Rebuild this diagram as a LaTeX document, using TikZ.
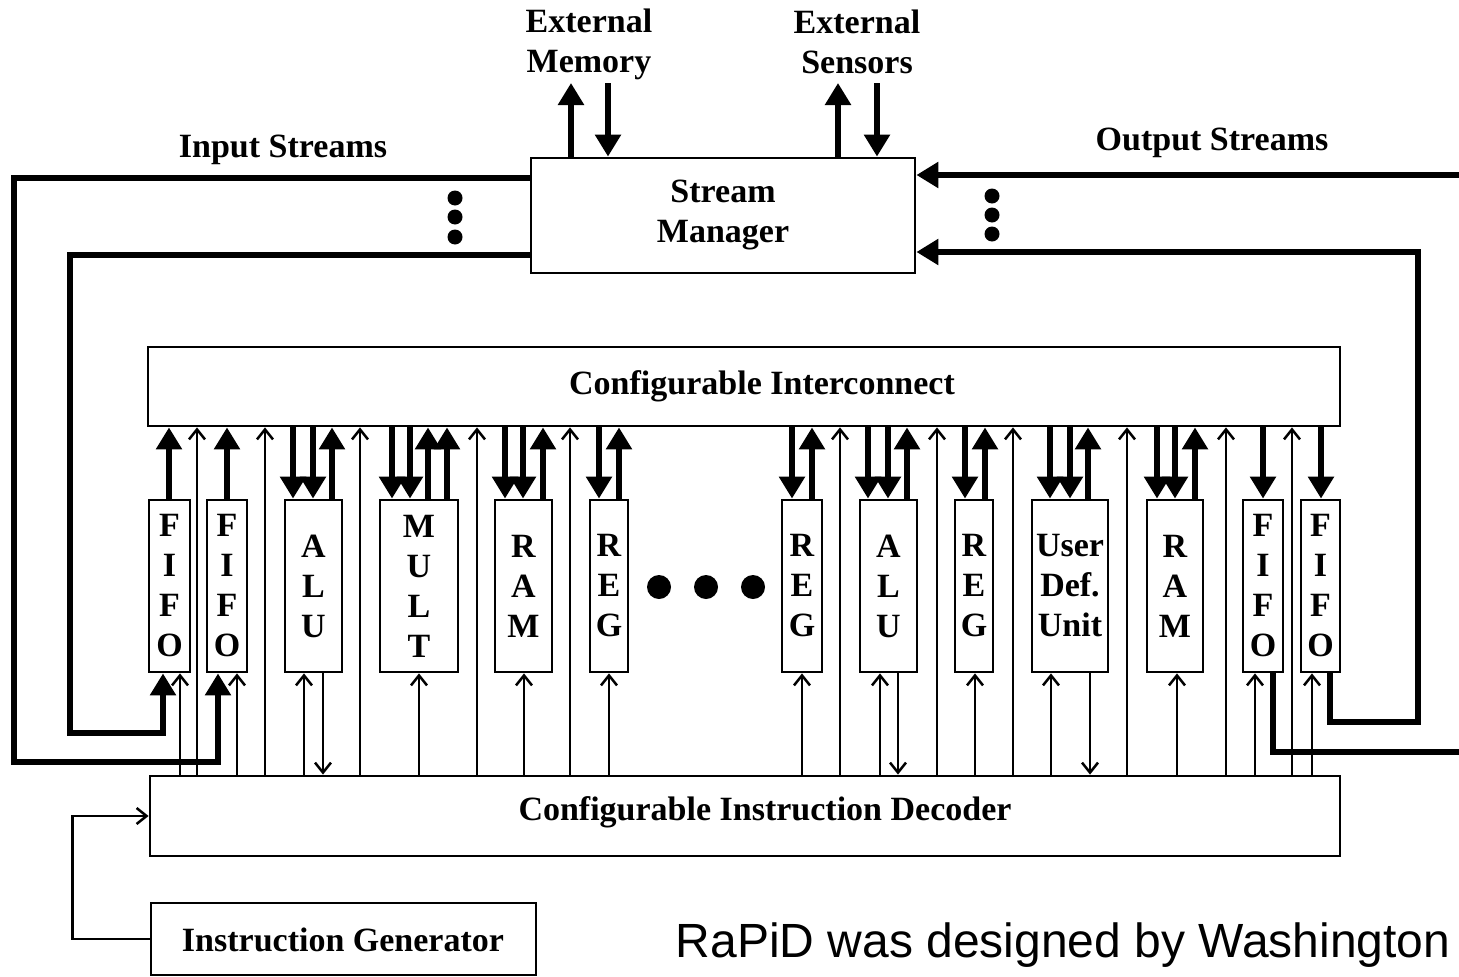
\documentclass[tikz,border=0pt]{standalone}
\usepackage{fontspec}
\setmainfont{Liberation Serif}
\newfontfamily\arialfont{Liberation Sans}
\usetikzlibrary{arrows.meta}

\tikzset{
  box/.style={draw, line width=2.8pt, inner sep=0pt},
  unitbox/.style={box, minimum height=172pt, align=center,
    font=\fontsize{34}{40}\selectfont\bfseries},
  lbl/.style={inner sep=0pt, align=center,
    font=\fontsize{34}{40}\selectfont\bfseries},
  fatline/.style={line width=6pt, line join=miter},
  fatarrow/.style={fatline, -{Triangle[width=25pt,length=22pt]}},
  slimarrow/.style={line width=2.5pt,
    -{Straight Barb[width=16pt,length=10pt,line width=2.5pt]}},
}

\begin{document}
\begin{tikzpicture}[x=1pt,y=-1pt]
\useasboundingbox (0,0) rectangle (1459,977);

% main blocks
\node[box, minimum width=384pt, minimum height=115pt] (sm) at (723,215.5) {};
\node[lbl] (smtext) at (723,214.5) {Stream\\Manager};
\node[box, minimum width=1192pt, minimum height=79pt] (ic) at (744,386.5) {};
\node[lbl] (ictext) at (762,386) {Configurable Interconnect};
\node[box, minimum width=1190pt, minimum height=80pt] (dec) at (745,816) {};
\node[lbl] (dectext) at (765,812) {Configurable Instruction Decoder};
\node[box, minimum width=385pt, minimum height=72pt] (ig) at (343.5,939) {};
\node[lbl] (igtext) at (343,940) {Instruction Generator};

% labels of the outside world
\node[lbl] (mem) at (589,44) {External\\Memory};
\node[lbl] (sens) at (857,42) {External\\Sensors};
\node[lbl] (instr) at (283,150) {Input Streams};
\node[lbl] (outstr) at (1212,143) {Output Streams};

% functional units
\node[unitbox, minimum width=41pt] (f1)   at (169.5,586) {F\\I\\F\\O};
\node[unitbox, minimum width=40pt] (f2)   at (227,586)   {F\\I\\F\\O};
\node[unitbox, minimum width=57pt] (alu1) at (313.5,586) {A\\L\\U};
\node[unitbox, minimum width=78pt] (mult) at (419,586)   {M\\U\\L\\T};
\node[unitbox, minimum width=57pt] (ram1) at (523.5,586) {R\\A\\M};
\node[unitbox, minimum width=38pt] (reg1) at (609,586)   {R\\E\\G};
\node[unitbox, minimum width=40pt] (reg2) at (802,586)   {R\\E\\G};
\node[unitbox, minimum width=57pt] (alu2) at (888.5,586) {A\\L\\U};
\node[unitbox, minimum width=38pt] (reg3) at (974,586)   {R\\E\\G};
\node[unitbox, minimum width=76pt] (udu)  at (1070,586)  {User\\Def.\\Unit};
\node[unitbox, minimum width=56pt] (ram2) at (1175,586)  {R\\A\\M};
\node[unitbox, minimum width=40pt] (f3)   at (1263,586)  {F\\I\\F\\O};
\node[unitbox, minimum width=39pt] (f4)   at (1320.5,586){F\\I\\F\\O};

% ellipsis between the unit groups
\foreach \x in {659,706,753} \fill (\x,587) circle (12pt);
\foreach \y in {198,217,237} \fill (455,\y) circle (7.5pt);
\foreach \y in {196,215,234} \fill (992,\y) circle (7.5pt);

% unit outputs into the interconnect
\foreach \n/\x in {f1/169, f2/227, alu1/332, mult/428, mult/447, ram1/543,
    reg1/619, reg2/812, alu2/907, reg3/985, udu/1088, ram2/1195}
  \draw[fatarrow] (\n.north -| \x,0) -- (ic.south -| \x,0);

% interconnect into unit inputs
\foreach \n/\x in {alu1/293, alu1/313, mult/392, mult/410, ram1/505, ram1/523,
    reg1/599, reg2/792, alu2/868, alu2/888, reg3/965, udu/1050, udu/1070,
    ram2/1157, ram2/1175, f3/1263, f4/1321}
  \draw[fatarrow] (ic.south -| \x,0) -- (\n.north -| \x,0);

% control lines from the decoder to the interconnect
\foreach \x in {197,265,360,477,570,840,937,1013,1127,1226,1292}
  \draw[slimarrow] (dec.north -| \x,0) -- (ic.south -| \x,0);

% control lines from the decoder to the units
\foreach \n/\x in {f1/180, f2/237, alu1/304, mult/419, ram1/524, reg1/609,
    reg2/802, alu2/880, reg3/975, udu/1051, ram2/1177, f3/1255, f4/1312}
  \draw[slimarrow] (dec.north -| \x,0) -- (\n.south -| \x,0);

% status lines from the units back to the decoder
\foreach \n/\x in {alu1/323, alu2/898, udu/1090}
  \draw[slimarrow] (\n.south -| \x,0) -- (dec.north -| \x,0);

% input streams
\draw[fatarrow] (sm.west |- 0,178) -| (14,762) -| (f2.south -| 218,0);
\draw[fatarrow] (sm.west |- 0,255) -| (70,733) -| (f1.south -| 163,0);

% output streams
\coordinate (outA) at (1459,175);
\coordinate (outB) at (1459,752);
\draw[fatarrow] (outA) -- (sm.east |- outA);
\draw[fatline] (f3.south -| 1273,0) |- (outB);
\draw[fatarrow] (f4.south -| 1330,0) |- (1418,722) |- (sm.east |- 0,252);

% external memory and sensors
\coordinate (memA) at (571,83);
\coordinate (memB) at (608,83);
\coordinate (sensA) at (838,83);
\coordinate (sensB) at (877,83);
\draw[fatarrow] (sm.north -| memA) -- (memA);
\draw[fatarrow] (memB) -- (sm.north -| memB);
\draw[fatarrow] (sm.north -| sensA) -- (sensA);
\draw[fatarrow] (sensB) -- (sm.north -| sensB);

% instruction feedback
\draw[slimarrow] (ig.west) -- ++(-77,0) |- (dec.west);

% caption
\node[anchor=base, inner sep=0pt, font=\fontsize{48}{50}\selectfont\arialfont]
  (caption) at (1063,957) {RaPiD was designed by Washington};
\end{tikzpicture}
\end{document}
